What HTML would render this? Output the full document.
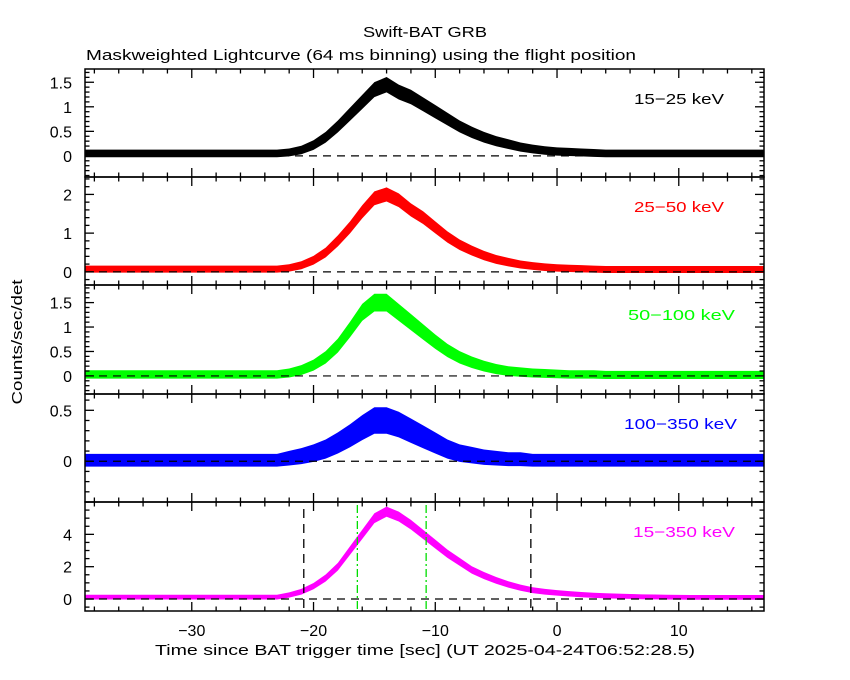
<!DOCTYPE html>
<html><head><meta charset="utf-8">
<style>
body{margin:0;background:#fff;}
svg{display:block;font-family:"Liberation Sans",sans-serif;}
</style></head>
<body>
<svg id="chart" width="850" height="680" viewBox="0 0 850 680" xmlns="http://www.w3.org/2000/svg">
<rect width="850" height="680" fill="#fff"/>
<text x="363" y="37" font-size="15" textLength="124" lengthAdjust="spacingAndGlyphs">Swift-BAT GRB</text>
<text x="86" y="60" font-size="15" textLength="550" lengthAdjust="spacingAndGlyphs">Maskweighted Lightcurve (64 ms binning) using the flight position</text>
<text x="0" y="0" font-size="15" text-anchor="middle" textLength="125" lengthAdjust="spacingAndGlyphs" transform="translate(22,342) rotate(-90)">Counts/sec/det</text>
<text x="155" y="655" font-size="15" textLength="540" lengthAdjust="spacingAndGlyphs">Time since BAT trigger time [sec] (UT 2025-04-24T06:52:28.5)</text>
<g id="plots"></g>
</svg>
<script>
const times = [];
for (let t = -39; t <= 17; t++) times.push(t);
const soft = [0.05,0.05,0.05,0.05,0.05,0.05,0.05,0.05,0.05,0.05,0.05,0.05,0.05,0.05,0.05,0.05,0.05,
 0.07,0.12,0.22,0.38,0.6,0.85,1.1,1.35,1.45,1.3,1.2,1.05,0.9,0.75,0.6,0.48,0.38,0.3,0.24,0.18,0.14,0.11,0.09,0.08,0.07,0.06,
 0.05,0.05,0.05,0.05,0.05,0.05,0.05,0.05,0.05,0.05,0.05,0.05,0.05,0.05];
const mid = [0.07,0.07,0.07,0.07,0.07,0.07,0.07,0.07,0.07,0.07,0.07,0.07,0.07,0.07,0.07,0.07,0.07,
 0.1,0.17,0.3,0.5,0.8,1.15,1.55,1.9,2.0,1.85,1.6,1.4,1.15,0.9,0.7,0.55,0.42,0.32,0.25,0.19,0.15,0.12,0.1,0.09,0.08,0.07,
 0.06,0.06,0.06,0.06,0.06,0.06,0.06,0.06,0.06,0.06,0.06,0.06,0.06,0.06];
const hard = [0.03,0.03,0.03,0.03,0.03,0.03,0.03,0.03,0.03,0.03,0.03,0.03,0.03,0.03,0.03,0.03,0.03,
 0.06,0.12,0.22,0.38,0.62,0.95,1.3,1.5,1.5,1.3,1.1,0.9,0.7,0.52,0.38,0.28,0.2,0.14,0.1,0.08,0.06,0.05,0.04,0.03,0.03,0.03,
 0.02,0.02,0.02,0.02,0.02,0.02,0.02,0.02,0.02,0.02,0.02,0.02,0.02,0.02];
const vhard = [0.01,0.01,0.01,0.01,0.01,0.01,0.01,0.01,0.01,0.01,0.01,0.01,0.01,0.01,0.01,0.01,0.01,
 0.03,0.05,0.08,0.12,0.18,0.25,0.33,0.4,0.4,0.36,0.3,0.24,0.18,0.12,0.08,0.06,0.04,0.03,0.02,0.02,0.01,0.01,0.01,0.01,0.01,0.01,
 0.01,0.01,0.01,0.01,0.01,0.01,0.01,0.01,0.01,0.01,0.01,0.01,0.01,0.01];
const total = [0.12,0.12,0.12,0.12,0.12,0.12,0.12,0.12,0.12,0.12,0.12,0.12,0.12,0.12,0.12,0.12,0.12,
 0.25,0.45,0.8,1.3,2.0,3.0,4.0,5.0,5.4,5.1,4.6,4.0,3.4,2.8,2.3,1.8,1.45,1.15,0.9,0.7,0.55,0.45,0.38,0.32,0.27,0.23,
 0.2,0.18,0.16,0.14,0.13,0.12,0.11,0.1,0.1,0.1,0.1,0.1,0.1,0.1];
const bandLabels = ["15\u221225 keV","25\u221250 keV","50\u2212100 keV","100\u2212350 keV","15\u2212350 keV"];
const xTicks = [-30,-20,-10,0,10];
const xTickLabels = ["\u221230","\u221220","\u221210","0","10"];
const blackLines = [-20.8, -2.15];
const greenLines = [-16.4, -10.75];

const NS = "http://www.w3.org/2000/svg";
const X0 = 85, X1 = 764, T0 = -38.77, T1 = 17.0;
const xs = t => X0 + (t - T0) / (T1 - T0) * (X1 - X0);
const panels = [
 {top:69,bot:177,ymin:-0.43,ymax:1.77,major:0.5,minor:0.1,labels:[0,0.5,1,1.5],data:soft,color:"#000",noise:0.06,name:"15-25",lx:634,lw:90},
 {top:177,bot:285,ymin:-0.34,ymax:2.45,major:1,minor:0.2,labels:[0,1,2],data:mid,color:"#ff0000",noise:0.07,name:"25-50",lx:634,lw:90},
 {top:285,bot:394,ymin:-0.37,ymax:1.86,major:0.5,minor:0.1,labels:[0,0.5,1,1.5],data:hard,color:"#00ff00",noise:0.07,name:"50-100",lx:628,lw:107},
 {top:394,bot:502,ymin:-0.40,ymax:0.66,major:0.5,minor:0.1,labels:[0,0.5],data:vhard,color:"#0000ff",noise:0.05,name:"100-350",lx:624,lw:113},
 {top:502,bot:611,ymin:-0.74,ymax:6.0,major:2,minor:0.5,labels:[0,2,4],data:total,color:"#ff00ff",noise:0.12,name:"15-350",lx:633,lw:102}
];
const g = document.getElementById("plots");
function mk(tag, attrs){const e=document.createElementNS(NS,tag);for(const k in attrs)e.setAttribute(k,attrs[k]);g.appendChild(e);return e;}
function fmt(v){return v<0?"\u2212"+Math.abs(v):String(v);}
panels.forEach((p, i) => {
  const ys = v => p.bot - (v - p.ymin) / (p.ymax - p.ymin) * (p.bot - p.top);
  const mx = p.data.reduce((m,q)=>Math.max(m,q),0);
  const cp = mk("clipPath",{id:"clip"+i});
  const cr = document.createElementNS(NS,"rect");
  cr.setAttribute("x",X0);cr.setAttribute("y",p.top);cr.setAttribute("width",X1-X0);cr.setAttribute("height",p.bot-p.top);
  cp.appendChild(cr);
  let up = [], dn = [];
  p.data.forEach((v, k) => {
    const a = p.noise * (1 + 1.6*Math.sqrt(Math.max(v,0) / mx));
    up.push(xs(times[k])+","+ys(v+a));
    dn.unshift(xs(times[k])+","+ys(v-a));
  });
  const band = mk("polygon",{points:up.concat(dn).join(" "),fill:p.color,"clip-path":"url(#clip"+i+")"});
  
  
  const zl = mk("line",{x1:X0,x2:X1,y1:ys(0),y2:ys(0),stroke:"#000","stroke-width":"1.2","stroke-dasharray":"8,6"});
  
  
  const fr = mk("rect",{x:X0,y:p.top,width:X1-X0,height:p.bot-p.top,fill:"none",stroke:"#000","stroke-width":"1.5"});
  
  
  for (let t = -38; t <= 16; t += 2) {
    const L = (t % 10 === 0) ? 9 : 4.5;
    mk("line",{x1:xs(t),x2:xs(t),y1:p.top,y2:p.top+L,stroke:"#000","stroke-width":"1.3"});
    mk("line",{x1:xs(t),x2:xs(t),y1:p.bot,y2:p.bot-L,stroke:"#000","stroke-width":"1.3"});
  }
  const start = Math.ceil(p.ymin / p.minor - 1e-9);
  for (let k = start; k * p.minor <= p.ymax + 1e-9; k++) {
    const v = k * p.minor;
    const isMaj = Math.abs(v / p.major - Math.round(v / p.major)) < 1e-6;
    const L = isMaj ? 9 : 4.5;
    mk("line",{x1:X0,x2:X0+L,y1:ys(v),y2:ys(v),stroke:"#000","stroke-width":"1.3"});
    mk("line",{x1:X1,x2:X1-L,y1:ys(v),y2:ys(v),stroke:"#000","stroke-width":"1.3"});
  }
  p.labels.forEach(v => {
    const tx = mk("text",{x:X0-13,y:ys(v)+6,"font-size":"16","text-anchor":"end"});
    tx.textContent = fmt(v);
    
    
  });
  const lb = mk("text",{x:p.lx,y:p.top+35,"font-size":"15",textLength:p.lw,lengthAdjust:"spacingAndGlyphs",fill:p.color});
  lb.textContent = bandLabels[i];
  
  
  if (i === 4) {
    blackLines.forEach(t => {
      const l = mk("line",{x1:xs(t),x2:xs(t),y1:509,y2:p.bot,stroke:"#000","stroke-width":"1.3","stroke-dasharray":"9,6"});
      
      
    });
    greenLines.forEach(t => {
      const l = mk("line",{x1:xs(t),x2:xs(t),y1:505,y2:p.bot,stroke:"#00dd00","stroke-width":"1.3","stroke-dasharray":"8,3,2,3"});
      
      
    });
    xTicks.forEach((t, k) => {
      const tx = mk("text",{x:xs(t),y:p.bot+25,"font-size":"16","text-anchor":"middle"});
      tx.textContent = xTickLabels[k];
      
      
    });
  }
});
</script>
</body></html>
